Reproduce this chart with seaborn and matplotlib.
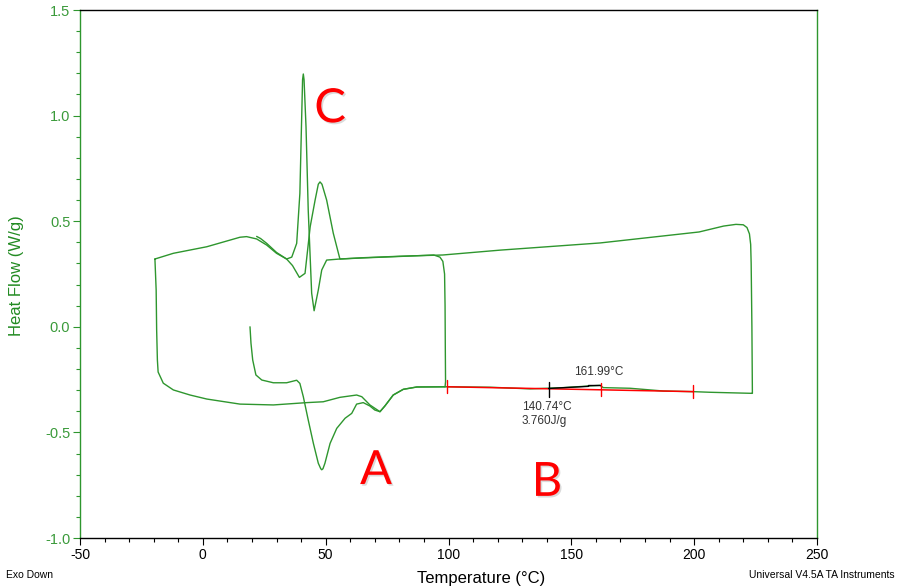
import numpy as np
import pandas as pd
import matplotlib
matplotlib.use("Agg")
import matplotlib.pyplot as plt
import matplotlib.patheffects as pe
import seaborn as sns
from matplotlib.ticker import MultipleLocator

# ---------------- data ----------------
# segment 1: first trace starting near 20 °C (bottom, with the two dips "A")
seg1_T = [19.2, 19.6, 20.3, 21.6, 24.0, 28.7, 34.1, 38.2, 39.5, 40.9, 42.9, 45.0, 47.0, 48.0, 48.4,
          48.9, 49.7, 51.8, 54.5, 57.9, 60.6, 62.6, 65.3, 68.0, 70.0, 72.1, 74.1, 77.5, 81.6, 87.1, 98.6]
seg1_H = [0.0, -0.078, -0.157, -0.228, -0.252, -0.265, -0.265, -0.253, -0.268, -0.331, -0.441,
          -0.552, -0.646, -0.672, -0.677, -0.672, -0.646, -0.552, -0.481, -0.433, -0.41, -0.366,
          -0.359, -0.375, -0.394, -0.402, -0.375, -0.323, -0.296, -0.285, -0.284]

# segment 2: vertical jump at ~100 °C, top baseline back to the small peak, ends near 22 °C
seg2_T = [98.6, 98.8, 98.7, 98.6, 98.4, 97.7, 96.5, 94.0, 80.0, 65.0, 55.8, 53.1, 50.4, 48.5, 47.7,
          47.0, 45.7, 43.7, 41.6, 39.3, 36.5, 34.1, 30.0, 26.0, 23.5, 21.9]
seg2_H = [-0.284, -0.26, -0.1, 0.1, 0.25, 0.31, 0.33, 0.34, 0.333, 0.326, 0.321, 0.443, 0.6,
          0.675, 0.686, 0.675, 0.6, 0.474, 0.253, 0.234, 0.29, 0.321, 0.352, 0.395, 0.418, 0.428]

# segment 3: long loop (-20 °C corner, bottom baseline, 225 °C, top baseline, tall peak "C")
seg3_T = [-19.5, -19.0, -18.8, -18.5, -18.2, -16.1, -12.0, -5.2, 1.6, 15.1, 28.7, 42.3, 49.0,
          55.8, 62.6, 64.7, 68.0, 72.1, 74.1, 77.5, 81.6, 87.1, 99.2, 116.9, 133.2, 146.7,
          157.6, 161.7, 163.0, 173.9, 187.4, 199.6, 206.4, 223.4, 223.7, 223.5, 223.2, 223.0,
          222.5, 221.5, 220.0, 217.0, 212.0, 202.0, 161.7, 121.0, 97.7, 80.0, 65.0, 55.8, 50.4,
          48.4, 47.0, 45.3, 44.3, 42.9, 42.0, 41.2, 40.9, 40.6, 39.5, 38.2, 36.2, 34.1, 30.0,
          26.0, 21.9, 17.8, 15.1, 1.6, -12.0, -19.5]
seg3_H = [0.321, 0.174, -0.015, -0.157, -0.214, -0.267, -0.299, -0.323, -0.342, -0.366, -0.37,
          -0.359, -0.355, -0.334, -0.323, -0.331, -0.37, -0.402, -0.375, -0.323, -0.296, -0.285,
          -0.284, -0.286, -0.294, -0.288, -0.28, -0.277, -0.288, -0.291, -0.304, -0.307, -0.31,
          -0.315, -0.315, 0.0, 0.30, 0.39, 0.44, 0.47, 0.483, 0.485, 0.477, 0.449, 0.397, 0.363,
          0.34, 0.334, 0.327, 0.321, 0.316, 0.269, 0.174, 0.076, 0.159, 0.553, 0.947, 1.17,
          1.197, 1.17, 0.632, 0.395, 0.33, 0.321, 0.348, 0.387, 0.416, 0.427, 0.424, 0.379,
          0.348, 0.321]

# integration (red baseline) and partial-area marks
base_T = [99.5, 199.6]
base_H = [-0.284, -0.307]
part_T = [140.74, 157.0, 157.0, 161.99]
part_H = [-0.292, -0.282, -0.278, -0.278]
red_ticks = [99.5, 161.99, 199.6]
onset_T = 140.74
peak_label = "161.99°C"
onset_label = "140.74°C"
area_label = "3.760J/g"

x_ticks = [-50, 0, 50, 100, 150, 200, 250]
y_ticks = [-1.0, -0.5, 0.0, 0.5, 1.0, 1.5]

# ---------------- figure ----------------
sns.set_theme(style="white")
plt.rcParams['font.family'] = ['Liberation Sans', 'DejaVu Sans']

GREEN = "#2e962e"
LABEL_GREEN = "#3a9a3a"
YLABEL_GREEN = "#228b22"

fig = plt.figure(figsize=(8.98, 5.88), dpi=100)
ax = fig.add_axes([80 / 898, 1 - 538 / 588, (817 - 80) / 898, (538 - 10) / 588])

frames = []
for name, T, H in [("s1", seg1_T, seg1_H), ("s2", seg2_T, seg2_H), ("s3", seg3_T, seg3_H)]:
    frames.append(pd.DataFrame({"seg": name, "T": T, "H": H}))
df = pd.concat(frames, ignore_index=True)

sns.lineplot(data=df, x="T", y="H", units="seg", estimator=None, sort=False,
             color=GREEN, linewidth=1.0, ax=ax, legend=False)

sns.lineplot(x=base_T, y=base_H, sort=False, estimator=None, color="#ff0000",
             linewidth=1.1, ax=ax)
sns.lineplot(x=part_T, y=part_H, sort=False, estimator=None, color="black",
             linewidth=1.0, ax=ax)
for t in red_ticks:
    hb = np.interp(t, base_T, base_H)
    ax.plot([t, t], [hb - 0.03, hb + 0.03], color="#ff0000", lw=1.0)
ax.plot([onset_T, onset_T], [-0.263, -0.331], color="black", lw=1.0)

ax.text(151.1, -0.213, peak_label, fontsize=8.5, color="#333333", ha="left", va="center")
ax.text(129.8, -0.378, onset_label, fontsize=8.5, color="#333333", ha="left", va="center")
ax.text(129.8, -0.446, area_label, fontsize=8.5, color="#333333", ha="left", va="center")

shadow = [pe.withSimplePatchShadow(offset=(1.2, -1.2), shadow_rgbFace="#999999", alpha=0.35)]
for s, tx, ty in [("C", 51.8, 1.03), ("A", 70.5, -0.683), ("B", 140.1, -0.739)]:
    ax.text(tx, ty, s, fontsize=34, color="#ff0000", ha="center", va="center",
            family=["Lato", "DejaVu Sans"], path_effects=shadow)

ax.set_xlim(-50, 250)
ax.set_ylim(-1.0, 1.5)
ax.set_xticks(x_ticks)
ax.set_yticks(y_ticks)
ax.set_xticklabels([f"{v:g}" for v in x_ticks])
ax.set_yticklabels([f"{v:.1f}" for v in y_ticks])
ax.xaxis.set_minor_locator(MultipleLocator(10))
ax.yaxis.set_minor_locator(MultipleLocator(0.1))
ax.tick_params(axis="x", which="major", direction="out", length=5, width=0.8,
               color="black", labelsize=10, labelcolor="black", pad=2, bottom=True)
ax.tick_params(axis="x", which="minor", direction="out", length=3, width=0.8,
               color="black", bottom=True)
ax.tick_params(axis="y", which="major", direction="out", length=5, width=0.8,
               color=GREEN, labelsize=10.5, labelcolor=LABEL_GREEN, pad=2, left=True)
ax.tick_params(axis="y", which="minor", direction="out", length=3, width=0.8,
               color=GREEN, left=True)

for side in ["left", "right"]:
    ax.spines[side].set_color(GREEN)
    ax.spines[side].set_linewidth(1.0)
for side in ["top", "bottom"]:
    ax.spines[side].set_color("black")
    ax.spines[side].set_linewidth(1.0)

ax.set_xlabel("")
ax.set_ylabel("")
fig.text(481 / 898, 1 - 578 / 588, "Temperature (°C)", fontsize=12, color="black",
         ha="center", va="center")
fig.text(17 / 898, 1 - 276 / 588, "Heat Flow (W/g)", fontsize=12, color=YLABEL_GREEN,
         ha="center", va="center", rotation=90)
fig.text(6 / 898, 1 - 575 / 588, "Exo Down", fontsize=7.5, color="black",
         ha="left", va="center")
fig.text(895 / 898, 1 - 575 / 588, "Universal V4.5A TA Instruments", fontsize=7.5,
         color="black", ha="right", va="center")

fig.savefig("out.png", dpi=100)
